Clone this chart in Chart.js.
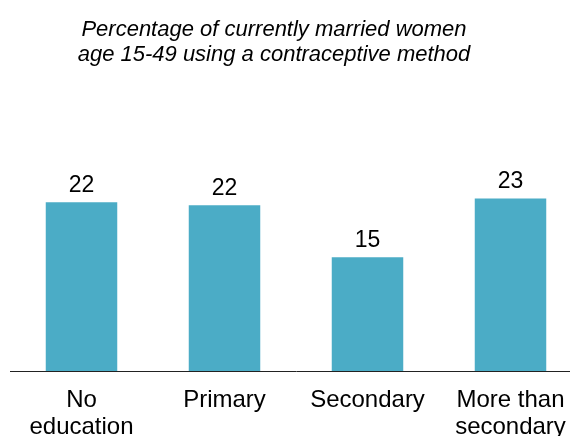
<!DOCTYPE html>
<html>
<head>
<meta charset="utf-8">
<title>Contraceptive use by education</title>
<script src="https://cdn.jsdelivr.net/npm/chart.js@4/dist/chart.umd.min.js"></script>
<style>
  html, body { margin: 0; padding: 0; background: #fff; overflow: hidden; }
  #wrap { position: relative; width: 570px; height: 436px; overflow: hidden; }
  #title {
    position: absolute; left: 0; top: 16px; width: 548px;
    text-align: center; font: italic 22px 'Liberation Sans', Arial, sans-serif;
    line-height: 25px; color: #000;
  }
  canvas { position: absolute; left: 0; top: 0; }
</style>
</head>
<body>
<div id="wrap">
  <canvas id="eduChart" width="582" height="457"></canvas>
  <div id="title">Percentage of currently married women<br>age 15-49 using a contraceptive method</div>
</div>
<script>
// Data
const categories = [['No', 'education'], ['Primary'], ['Secondary'], ['More than', 'secondary']];
const values = [22.4, 22.0, 15.1, 22.9];
const valueLabels = ['22', '22', '15', '23'];

const FONT = "'Liberation Sans', Arial, sans-serif";

// draws the number above each bar, positioned by the bar elements
const barLabels = {
  id: 'barLabels',
  afterDatasetsDraw(chart) {
    const ctx = chart.ctx;
    const meta = chart.getDatasetMeta(0);
    ctx.save();
    ctx.fillStyle = '#000';
    ctx.font = '23px ' + FONT;
    ctx.textAlign = 'center';
    ctx.textBaseline = 'alphabetic';
    meta.data.forEach((bar, i) => {
      ctx.fillText(valueLabels[i], bar.x, bar.y - 10);
    });
    ctx.restore();
  }
};

new Chart(document.getElementById('eduChart'), {
  type: 'bar',
  data: {
    labels: categories,
    datasets: [{
      data: values,
      backgroundColor: '#4BACC6',
      borderWidth: 0,
      barPercentage: 0.5,
      categoryPercentage: 1.0
    }]
  },
  options: {
    responsive: false,
    animation: false,
    layout: { padding: { left: 10, right: 0, top: 145, bottom: 0 } },
    plugins: {
      legend: { display: false },
      title: { display: false },
      tooltip: { enabled: false }
    },
    scales: {
      x: {
        grid: { display: false, drawTicks: false },
        border: { display: true, color: '#222', width: 1 },
        ticks: {
          color: '#000',
          padding: 16,
          maxRotation: 0,
          autoSkip: false,
          font: { family: FONT, size: 24, lineHeight: 1.125 }
        }
      },
      y: {
        display: false,
        min: 0,
        max: 30
      }
    }
  },
  plugins: [barLabels]
});
</script>
</body>
</html>
